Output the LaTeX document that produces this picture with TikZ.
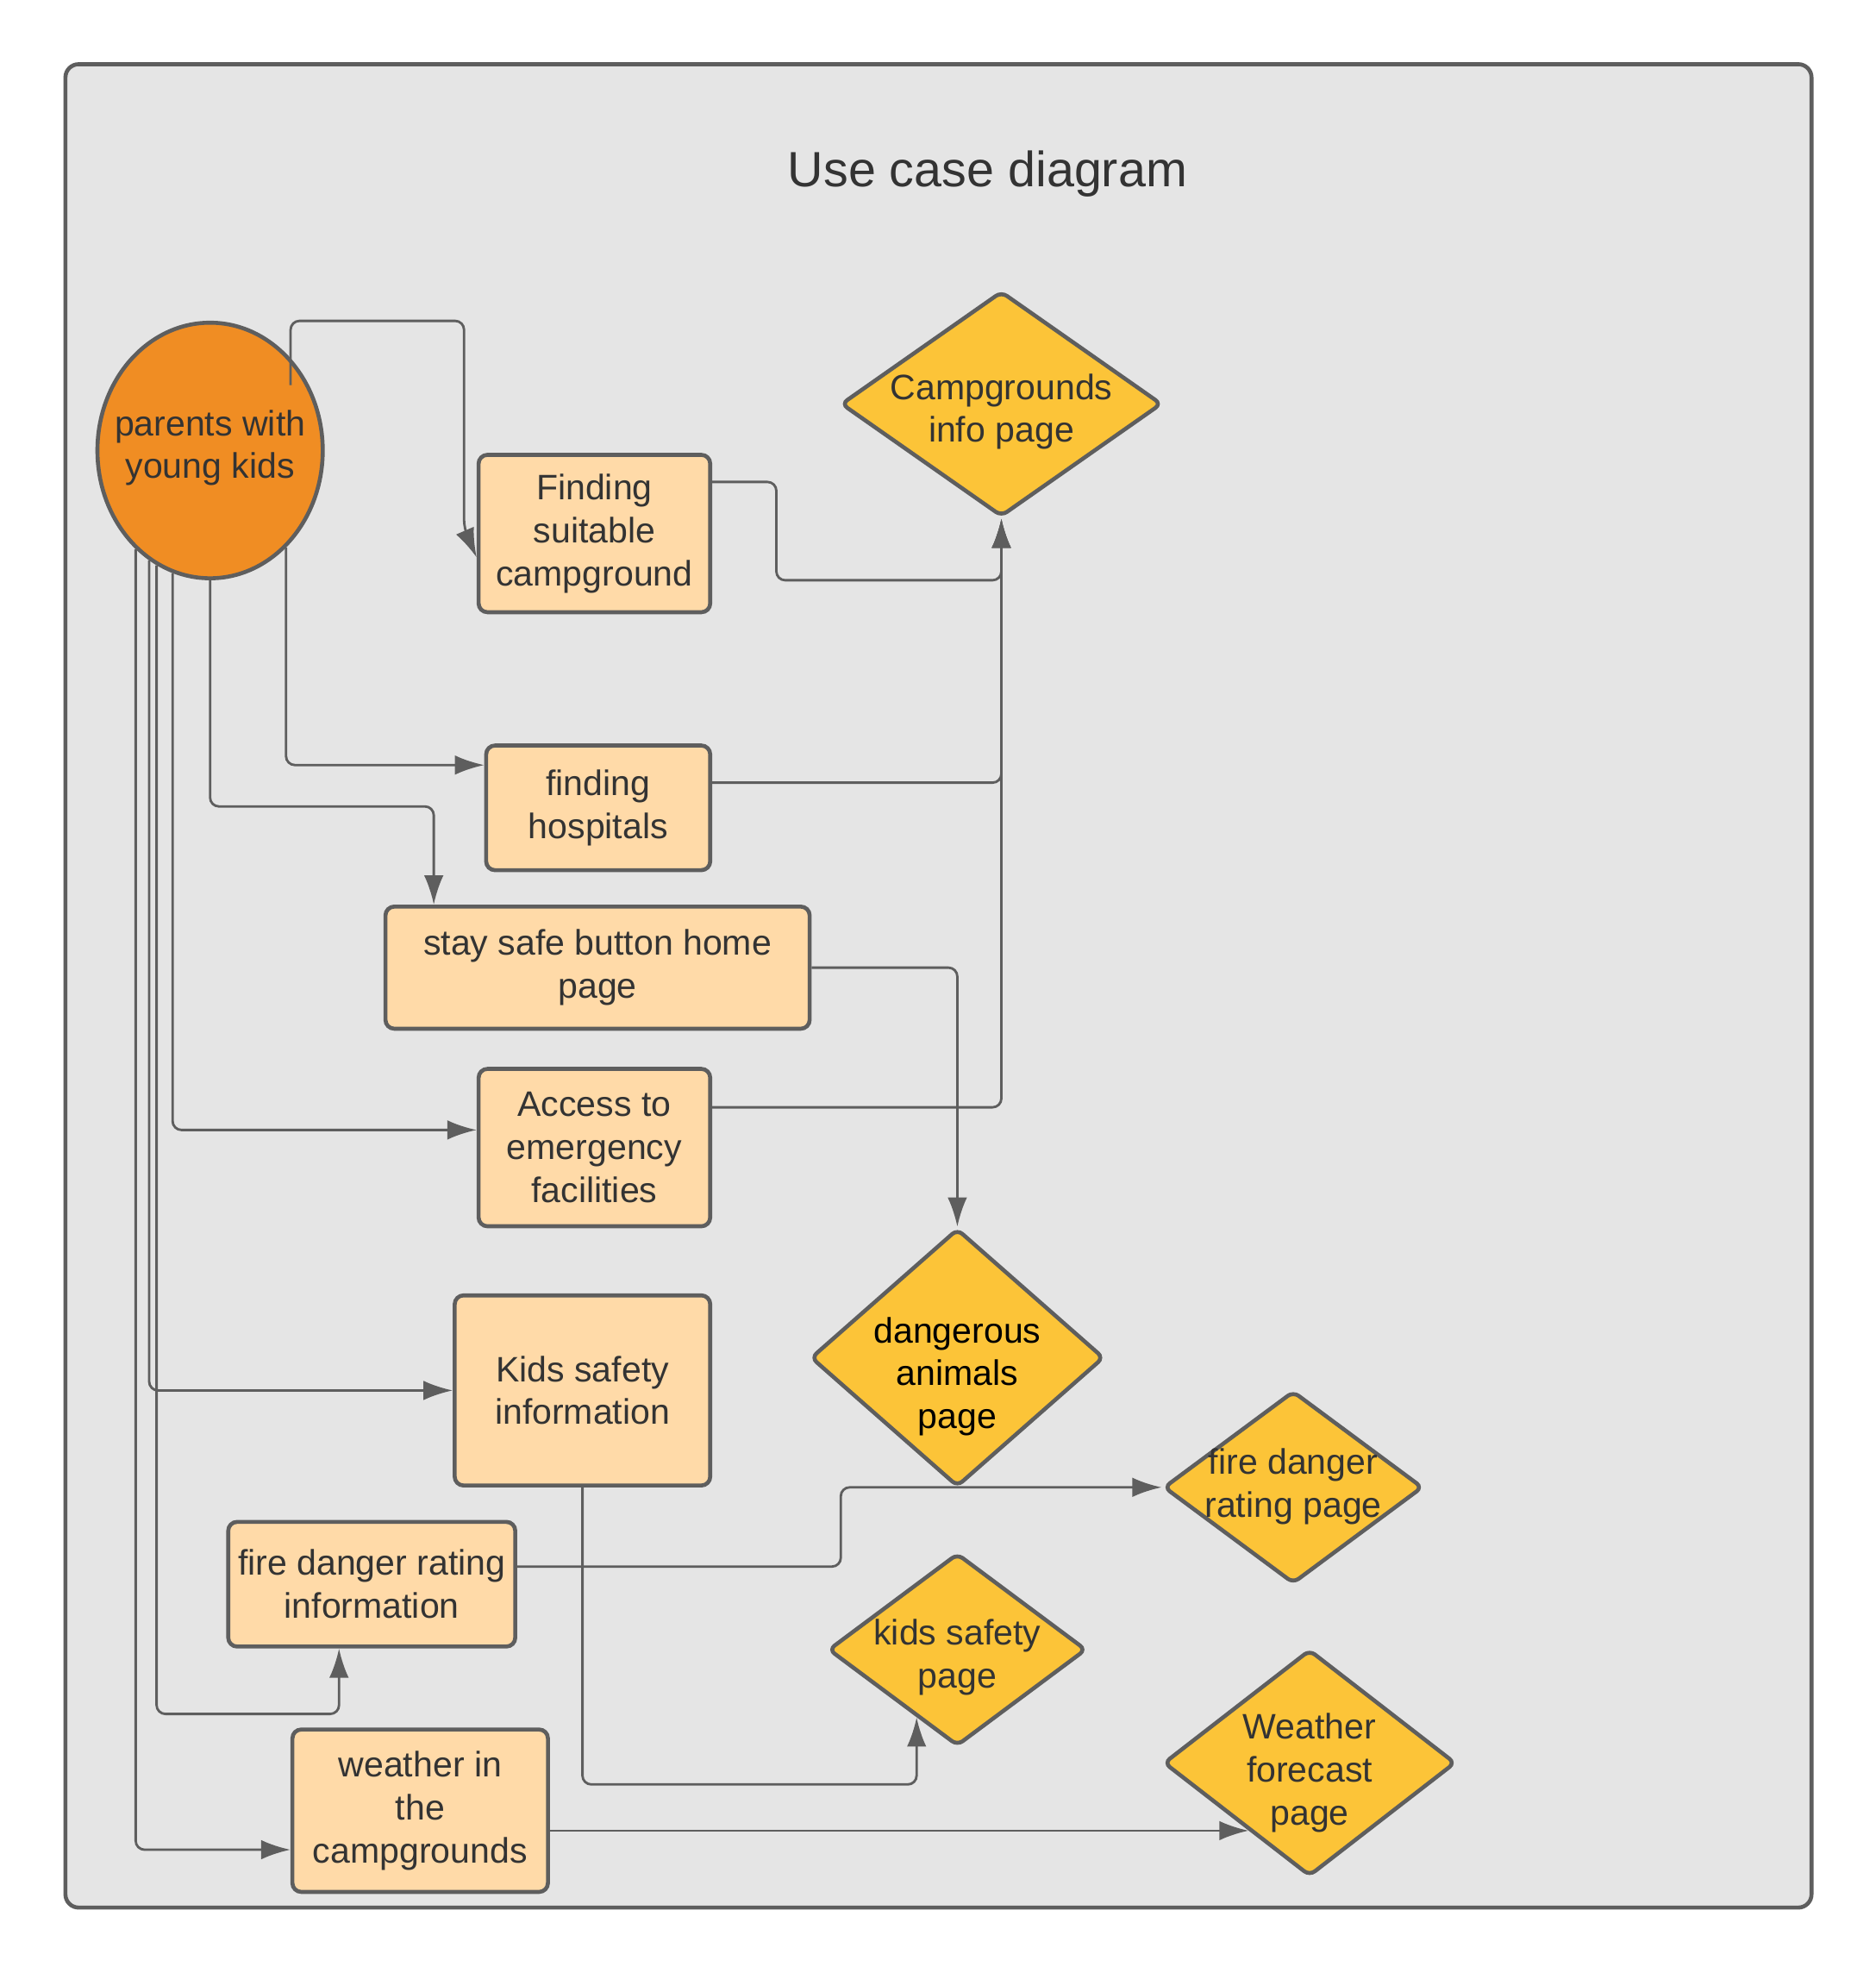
\documentclass[tikz,border=0pt]{standalone}
\usepackage{fontspec}
\setmainfont{Liberation Sans}
\usetikzlibrary{shapes.geometric}
\usetikzlibrary{arrows.meta}
\usetikzlibrary{calc}
\definecolor{framegray}{HTML}{E5E5E5}
\definecolor{linegray}{HTML}{5E5E5E}
\definecolor{textgray}{HTML}{333333}
\definecolor{actororange}{HTML}{F08D23}
\definecolor{casepeach}{HTML}{FFDAA8}
\definecolor{pageyellow}{HTML}{FCC438}
\tikzset{usecase/.style={rectangle, draw=linegray, line width=.9pt, fill=casepeach, rounded corners=2pt, inner sep=0pt, align=center, text=textgray, font=\fontsize{8pt}{9.7pt}\selectfont}}
\tikzset{page/.style={diamond, draw=linegray, line width=.9pt, fill=pageyellow, rounded corners=1.5pt, inner sep=0pt}}
\tikzset{pagetext/.style={align=center, inner sep=0pt, font=\fontsize{8pt}{9.7pt}\selectfont}}
\tikzset{conn/.style={draw=linegray, line width=.55pt, rounded corners=2pt, -{Latex[length=6.6pt,width=4.4pt]}}}

\begin{document}
\begin{tikzpicture}[x=0.01cm,y=-0.01cm]
  \useasboundingbox (0,0) rectangle (1491,1568);
  \draw[draw=linegray, line width=.9pt, fill=framegray, rounded corners=3pt] (52,51) rectangle (1440,1516);
  \node[text=textgray, font=\fontsize{11.2pt}{13pt}\selectfont] (title) at (785,138) {Use case diagram};
  \node[ellipse, draw=linegray, line width=.9pt, fill=actororange, minimum width=1.79cm, minimum height=2.03cm, inner sep=0pt,
    label={[pagetext, text=textgray, yshift=.6pt]center:parents with\\young kids}] (actor) at (167,358) {};
  \foreach \x/\y/\w/\h/\lab/\txt in {
    472.5/424/1.84/1.25/find/Finding\\suitable\\campground,
    475.5/642/1.78/0.99/hosp/finding\\hospitals,
    475/769/3.37/0.97/safe/stay safe button home\\page,
    472.5/912/1.84/1.25/acc/Access to\\emergency\\facilities,
    463/1105/2.03/1.51/kinfo/Kids safety\\information,
    295.5/1259/2.28/0.99/finfo/fire danger rating\\information,
    334/1439/2.03/1.29/weather/weather in\\the\\campgrounds%
  } {
    \node[usecase, minimum width=\w cm, minimum height=\h cm] (\lab) at (\x,\y) {\txt};
  }
  \foreach \x/\y/\w/\h/\dy/\col/\lab/\txt in {
    796/321/2.55/1.79/-1.75/textgray/info/Campgrounds\\info page,
    761/1079/2.33/2.05/-4.25/black/danger/dangerous\\animals\\page,
    1028/1182/2.06/1.53/0.25/textgray/fire/fire danger\\rating page,
    761/1311/2.05/1.53/-1.75/textgray/kpage/kids safety\\page,
    1041/1401/2.32/1.80/-2.25/textgray/wfc/Weather\\forecast\\page%
  } {
    \node[page, minimum width=\w cm, minimum height=\h cm,
      label={[pagetext, text=\col, yshift=\dy pt]center:\txt}] (\lab) at (\x,\y) {};
  }
  % actor to use cases
  \draw[conn] ($(actor.center)+(64,-52)$) -- ++(0,-51) -| ($(find.west)+(-10,-4)$) -- ($(find.west)+(0,19)$);
  \draw[conn] (actor.308) |- ($(hosp.west)+(0,-34)$);
  \draw[conn] (actor.south) |- ($(safe.north west)+(40,-78)$) -- ($(safe.north west)+(40,0)$);
  \draw[conn] (actor.253) |- ($(acc.west)+(0,-14)$);
  \draw[conn] (actor.241) |- (kinfo.west);
  \draw[conn] (actor.245) |- ($(finfo.south)+(-26,52)$) -- ($(finfo.south)+(-26,0)$);
  \draw[conn] (actor.233) |- ($(weather.west)+(0,31)$);
  % use cases to pages
  \draw[conn] ($(find.east)+(0,-41)$) -- ++(51,0) |- ($(info.south)+(0,49)$) -- (info.south);
  \draw[conn] ($(hosp.east)+(0,-20)$) -| (info.south);
  \draw[conn] ($(acc.east)+(0,-32)$) -| (info.south);
  \draw[conn] (safe.east) -| (danger.north);
  \draw[conn] ($(finfo.east)+(0,-14)$) -| ($(fire.west)+(-255,0)$) -- (fire.west);
  \draw[conn] (kinfo.south) -- ++(0,236) -| (kpage.239);
  \draw[conn] (weather.east |- wfc.228) -- (wfc.228);
\end{tikzpicture}
\end{document}
